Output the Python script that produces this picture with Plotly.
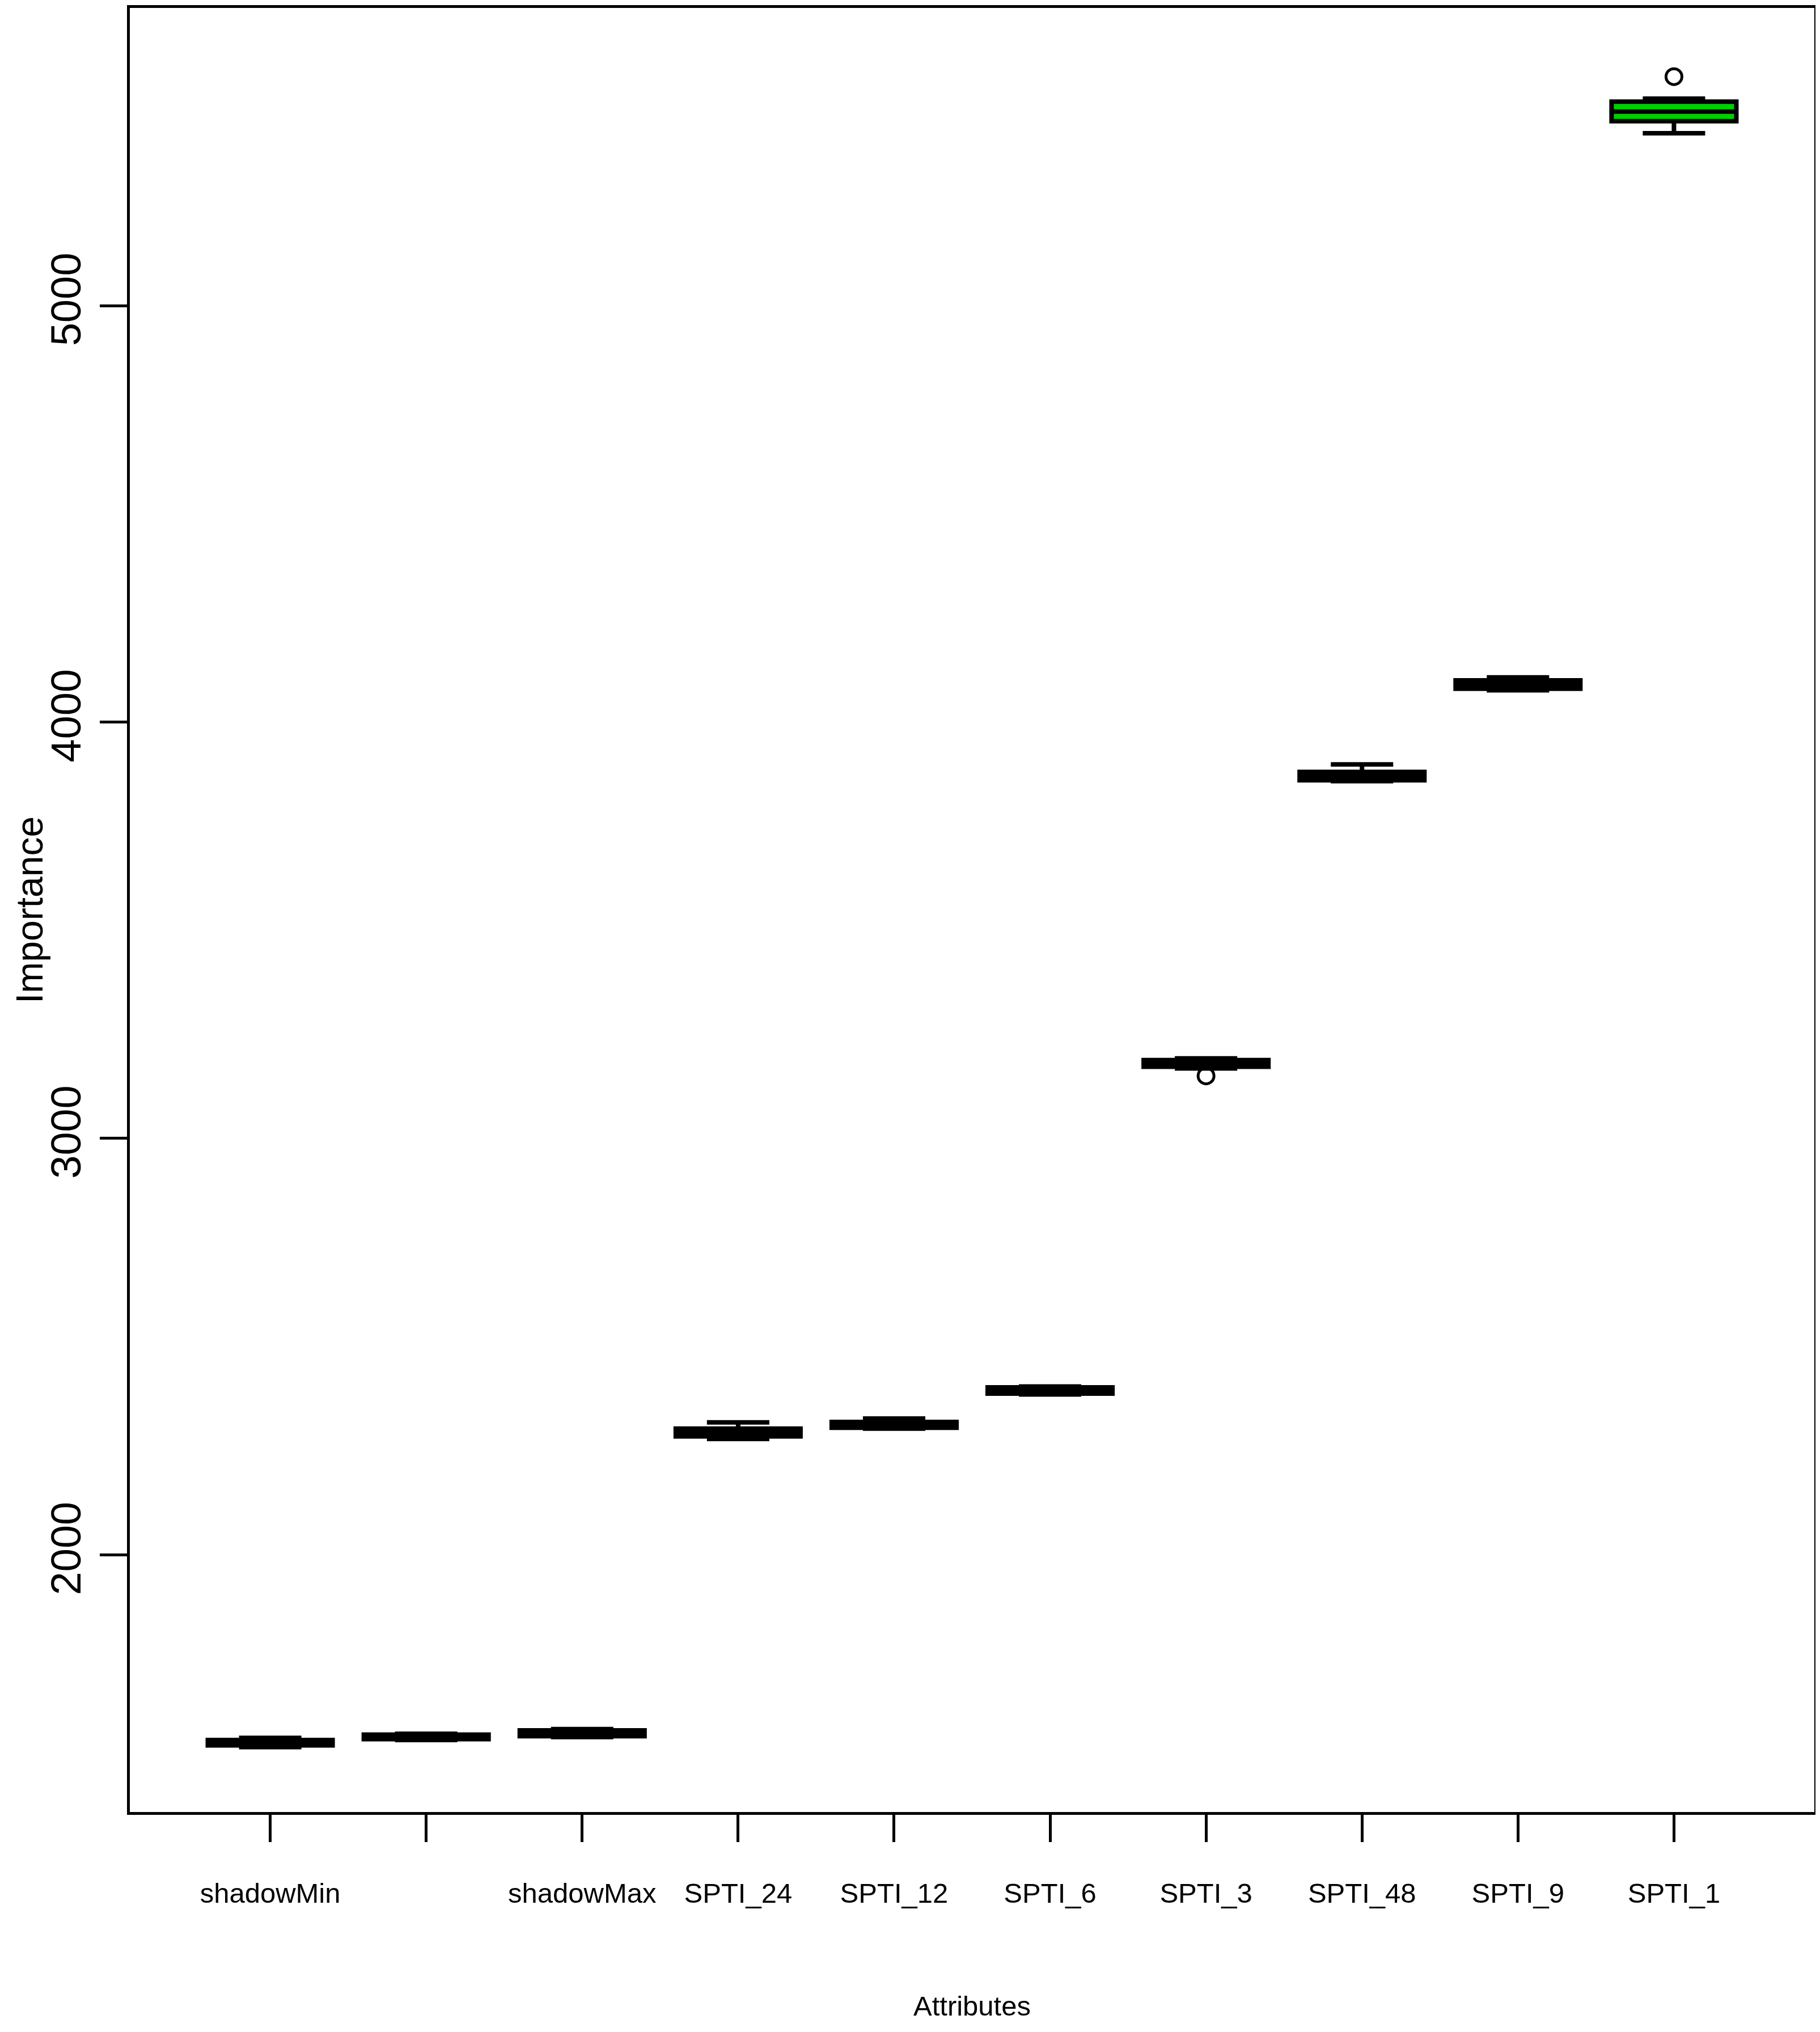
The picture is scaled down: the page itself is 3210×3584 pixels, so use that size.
import plotly.graph_objects as go

# Boruta importance history, one box per attribute
attributes = ["shadowMin", "", "shadowMax", "SPTI_24", "SPTI_12",
              "SPTI_6", "SPTI_3", "SPTI_48", "SPTI_9", "SPTI_1"]
positions = [1, 2, 3, 4, 5, 6, 7, 8, 9, 10]

lower = [1538, 1555, 1562, 2278, 2303, 2385, 3168, 3858, 4076, 5414]
q1 = [1542, 1557, 1564, 2284, 2305, 2387, 3172, 3860, 4080, 5443]
median = [1549, 1563, 1572, 2292, 2312, 2395, 3180, 3870, 4090, 5466]
q3 = [1555, 1568, 1578, 2303, 2319, 2402, 3188, 3880, 4100, 5490]
upper = [1560, 1570, 1581, 2318, 2327, 2404, 3192, 3898, 4107, 5497]

outlier_x = [7, 10]
outlier_y = [3150, 5550]

fill_colors = ["#222222"] * 9 + ["#00d000"]

fig = go.Figure()
for i in range(len(positions)):
    fig.add_trace(go.Box(
        x=[positions[i]],
        q1=[q1[i]], median=[median[i]], q3=[q3[i]],
        lowerfence=[lower[i]], upperfence=[upper[i]],
        width=0.8,
        whiskerwidth=0.5,
        fillcolor=fill_colors[i],
        line=dict(color="black", width=8),
        boxpoints=False,
        showlegend=False,
    ))

# outliers drawn as open circles like R's boxplot
fig.add_trace(go.Scatter(
    x=outlier_x, y=outlier_y,
    mode="markers",
    marker=dict(symbol="circle-open", size=28, color="black", line=dict(width=5)),
    showlegend=False,
))

# page body adds 8px, so the figure is a bit smaller than the window
fig.update_layout(
    width=3202, height=3576,
    margin=dict(l=221, r=10, t=1, b=388),
    plot_bgcolor="white", paper_bgcolor="white",
    font=dict(family="Liberation Sans, Arial", color="black"),
)

fig.update_xaxes(
    range=[0.1, 10.9],
    tickmode="array", tickvals=positions, ticktext=attributes,
    ticks="outside", ticklen=48, tickwidth=5, tickcolor="black",
    showline=True, linewidth=5, linecolor="black", mirror=True,
    showgrid=False, zeroline=False,
    tickfont=dict(family="Liberation Sans, Arial", size=49),
    ticklabelstandoff=48,
)
fig.update_yaxes(
    range=[1382, 5715],
    tickvals=[2000, 3000, 4000, 5000],
    ticks="outside", ticklen=48, tickwidth=5, tickcolor="black",
    showline=True, linewidth=5, linecolor="black", mirror=True,
    showgrid=False, zeroline=False,
    tickangle=-90,
    tickfont=dict(family="Liberation Sans, Arial", size=74),
    ticklabelstandoff=4,
)

fig.add_annotation(
    text="Attributes", xref="paper", yref="paper", x=0.5, y=0,
    yshift=-342, yanchor="middle", showarrow=False,
    font=dict(family="Liberation Sans, Arial", size=49),
)
fig.add_annotation(
    text="Importance", xref="paper", yref="paper", x=0, y=0.5,
    xshift=-177, xanchor="center", textangle=-90, showarrow=False,
    font=dict(family="Liberation Sans, Arial", size=66),
)

fig.write_html("out.html")
